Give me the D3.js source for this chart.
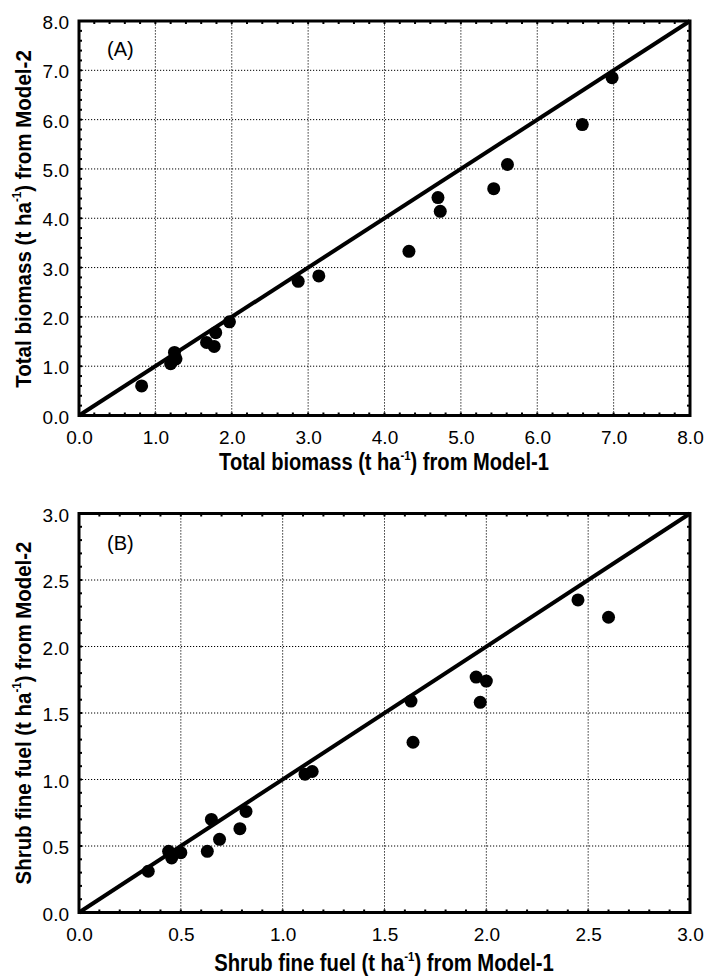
<!DOCTYPE html>
<html><head><meta charset="utf-8">
<script src="https://cdn.jsdelivr.net/npm/d3@7"></script>
<style>body{margin:0;background:#fff}svg{display:block}</style>
</head><body>
<script>
// Panel A: total biomass
const aModel1 = [0.82, 1.20, 1.22, 1.25, 1.27, 1.67, 1.77, 1.79, 1.97, 2.87, 3.14, 4.32, 4.70, 4.73, 5.43, 5.61, 6.59, 6.98];
const aModel2 = [0.60, 1.05, 1.10, 1.28, 1.15, 1.48, 1.40, 1.68, 1.90, 2.72, 2.83, 3.33, 4.42, 4.14, 4.60, 5.09, 5.90, 6.85];
const aTicks = [0,1,2,3,4,5,6,7,8];
// Panel B: shrub fine fuel
const bModel1 = [0.34, 0.44, 0.455, 0.50, 0.63, 0.65, 0.69, 0.79, 0.82, 1.11, 1.145, 1.63, 1.64, 1.95, 1.97, 2.00, 2.45, 2.60];
const bModel2 = [0.31, 0.46, 0.41, 0.45, 0.46, 0.70, 0.55, 0.63, 0.76, 1.04, 1.06, 1.59, 1.28, 1.77, 1.58, 1.74, 2.35, 2.22];
const bTicks = [0,0.5,1,1.5,2,2.5,3];

const W = 707, H = 978;
const svg = d3.select("body").append("svg").attr("width", W).attr("height", H);

function panel(o) {
  const x = d3.scaleLinear().domain([0, o.max]).range([79, 690]);
  const y = d3.scaleLinear().domain([0, o.max]).range([o.y0, o.y1]);
  const g = svg.append("g");
  // gridlines
  o.ticks.filter(t => t > 0 && t < o.max).forEach(t => {
    g.append("line").attr("x1", x(t)).attr("x2", x(t)).attr("y1", y(0)).attr("y2", y(o.max))
      .attr("stroke", "#000").attr("stroke-width", 1).attr("stroke-dasharray", "1.2,1.8");
    g.append("line").attr("y1", y(t)).attr("y2", y(t)).attr("x1", x(0)).attr("x2", x(o.max))
      .attr("stroke", "#000").attr("stroke-width", 1).attr("stroke-dasharray", "1.2,1.8");
  });
  // minor ticks inside
  const minor = d3.range(0, o.max + 1e-9, o.minor);
  minor.forEach(t => {
    g.append("line").attr("x1", x(t)).attr("x2", x(t)).attr("y1", y(0)).attr("y2", y(0) - 3).attr("stroke", "#000").attr("stroke-width", 2);
    g.append("line").attr("x1", x(t)).attr("x2", x(t)).attr("y1", y(o.max)).attr("y2", y(o.max) + 3).attr("stroke", "#000").attr("stroke-width", 2);
    g.append("line").attr("y1", y(t)).attr("y2", y(t)).attr("x1", x(0)).attr("x2", x(0) + 3).attr("stroke", "#000").attr("stroke-width", 2);
    g.append("line").attr("y1", y(t)).attr("y2", y(t)).attr("x1", x(o.max)).attr("x2", x(o.max) - 3).attr("stroke", "#000").attr("stroke-width", 2);
  });
  // axes via d3 (labels only)
  const xa = g.append("g").attr("transform", `translate(0,${y(0)})`)
    .call(d3.axisBottom(x).tickValues(o.ticks).tickFormat(d3.format(".1f")).tickSize(0).tickPadding(15));
  const ya = g.append("g").attr("transform", `translate(${x(0)},0)`)
    .call(d3.axisLeft(y).tickValues(o.ticks).tickFormat(d3.format(".1f")).tickSize(0).tickPadding(10));
  [xa, ya].forEach(a => {
    a.select(".domain").remove();
    a.selectAll("text").attr("font-family", "Liberation Sans, Arial, sans-serif").attr("font-size", 19).attr("fill", "#000");
  });
  ya.selectAll("text").attr("dy", "0.4em");
  // 1:1 line
  g.append("line").attr("x1", x(0)).attr("y1", y(0)).attr("x2", x(o.max)).attr("y2", y(o.max))
    .attr("stroke", "#000").attr("stroke-width", 4);
  // points
  g.selectAll("circle.pt").data(o.xs.map((v, i) => [v, o.ys[i]])).join("circle")
    .attr("cx", d => x(d[0])).attr("cy", d => y(d[1])).attr("r", 6.5).attr("fill", "#000");
  // frame
  g.append("rect").attr("x", x(0)).attr("y", y(o.max)).attr("width", x(o.max) - x(0)).attr("height", y(0) - y(o.max))
    .attr("fill", "none").attr("stroke", "#000").attr("stroke-width", 3);
  // panel label
  g.append("text").attr("x", 107).attr("y", o.labelY).text(o.label)
    .attr("font-family", "Liberation Sans, Arial, sans-serif").attr("font-size", 20).attr("fill", "#000");
  // titles
  function title(txt, cx, cy, len, rot) {
    const t = g.append("text").attr("font-family", "Liberation Sans, Arial, sans-serif").attr("font-weight", "bold")
      .attr("font-size", 23).attr("fill", "#000").attr("text-anchor", "middle");
    t.append("tspan").text(txt[0]);
    t.append("tspan").text("-1").attr("font-size", 13).attr("dy", -10);
    t.append("tspan").text(txt[1]).attr("dy", 10);
    const w = t.node().getComputedTextLength();
    const s = len / w;
    if (rot) t.attr("transform", `translate(${cx},${cy}) rotate(-90) scale(${s},1)`);
    else t.attr("transform", `translate(${cx},${cy}) scale(${s},1)`);
  }
  title(o.xt, 384, o.xtY, o.xtLen, false);
  title(o.xt.map(s => s.replace("Model-1", "Model-2")), 31, o.ytC, o.ytLen, true);
}

panel({max: 8, ticks: aTicks, minor: 0.2, y0: 415.5, y1: 21, xs: aModel1, ys: aModel2, label: "(A)", labelY: 56,
  xt: ["Total biomass (t ha", ") from Model-1"], xtY: 470, xtLen: 330, ytC: 219, ytLen: 338});
panel({max: 3, ticks: bTicks, minor: 0.1, y0: 912.5, y1: 513.5, xs: bModel1, ys: bModel2, label: "(B)", labelY: 550,
  xt: ["Shrub fine fuel (t ha", ") from Model-1"], xtY: 971, xtLen: 340, ytC: 713, ytLen: 343});
</script>
</body></html>
